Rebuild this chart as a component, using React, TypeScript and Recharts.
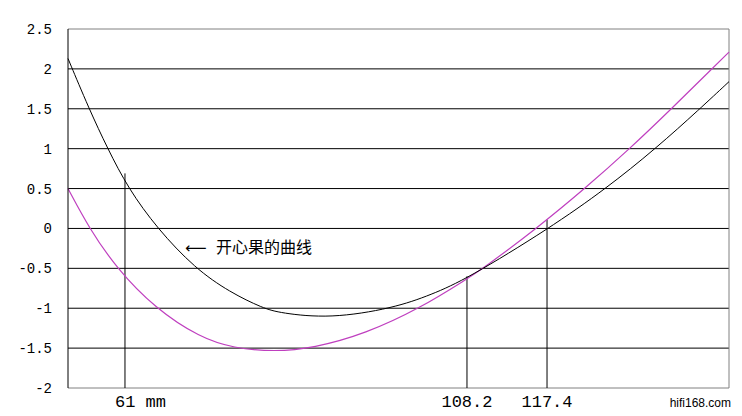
import { LineChart, Line, XAxis, YAxis, CartesianGrid, ReferenceLine } from 'recharts';

// x is the position along the horizontal axis, 0..100 (the axis carries no scale of its own)
// points read where each curve crosses the grid lines, plus its ends and lowest point
const PISTACHIO_X = [0, 3.18, 6.0, 9.13, 13.5, 19.2, 24.5, 29.5, 32.1, 39.6, 49.2, 55.0, 60.4, 72.8, 81.4, 88.9, 95.6, 100];
const PISTACHIO_Y = [2.13, 1.5, 1.0, 0.5, 0, -0.5, -0.8, -1.0, -1.06, -1.13, -1.0, -0.83, -0.63, 0, 0.5, 1.0, 1.5, 1.84];
const OTHER_X = [0, 3.22, 7.36, 13.16, 20.0, 25.0, 31.3, 37.1, 45.0, 53.25, 60.4, 62.8, 70.9, 78.2, 85.0, 91.3, 97.4, 100];
const OTHER_Y = [0.5, 0, -0.5, -1.0, -1.37, -1.5, -1.545, -1.5, -1.32, -1.0, -0.63, -0.5, 0, 0.5, 1.0, 1.5, 2.0, 2.21];

const MARKER_X = [8.62, 60.36, 72.47];
const MARKER_TOP = [0.69, -0.6, 0.11];
const MARKER_LABELS = ['61 mm', '108.2', '117.4'];

const Y_TICKS = [-2, -1.5, -1, -0.5, 0, 0.5, 1, 1.5, 2, 2.5];
const GRID_Y = [-1.5, -1, -0.5, 0, 0.5, 1, 1.5, 2];

const pistachio = PISTACHIO_X.map((x, i) => ({ x, y: PISTACHIO_Y[i] }));
const other = OTHER_X.map((x, i) => ({ x, y: OTHER_Y[i] }));

const XTick = (props: any) => {
  const { x, y, payload, index } = props;
  const first = index === 0;
  return (
    <text
      x={first ? x - 10 : x}
      y={y + 19}
      textAnchor={first ? 'start' : 'middle'}
      fontFamily="'Liberation Mono', 'DejaVu Sans Mono', monospace"
      fontSize={17}
      fill="#000"
    >
      {MARKER_LABELS[MARKER_X.indexOf(payload.value)] ?? ''}
    </text>
  );
};

const YTick = (props: any) => {
  const { x, y, payload } = props;
  return (
    <text
      x={x}
      y={y + 5}
      textAnchor="end"
      fontFamily="'Liberation Mono', 'DejaVu Sans Mono', monospace"
      fontSize={14}
      fill="#000"
    >
      {String(payload.value)}
    </text>
  );
};

export default function App() {
  return (
    <div style={{ position: 'absolute', left: 0, top: 0, width: 742, height: 416, background: '#fff' }}>
      <LineChart width={742} height={416} margin={{ top: 29, right: 13, bottom: 0, left: 0 }}>
        <CartesianGrid vertical={false} horizontalValues={GRID_Y} stroke="#000" strokeOpacity={1} />
        <XAxis
          type="number"
          dataKey="x"
          domain={[0, 100]}
          ticks={MARKER_X}
          axisLine={false}
          tickLine={false}
          tickSize={0}
          tickMargin={0}
          height={28}
          interval={0}
          allowDuplicatedCategory={false}
          tick={XTick}
        />
        <YAxis
          type="number"
          domain={[-2, 2.5]}
          ticks={Y_TICKS}
          width={68}
          axisLine={{ stroke: '#000' }}
          tickLine={false}
          tickSize={0}
          tickMargin={16}
          interval={0}
          tick={YTick}
        />
        <ReferenceLine y={2.5} stroke="#808080" />
        <ReferenceLine y={-2} stroke="#808080" />
        <ReferenceLine x={100} stroke="#808080" />
        {MARKER_X.map((mx, i) => (
          <ReferenceLine
            key={mx}
            segment={[
              { x: mx, y: -2 },
              { x: mx, y: MARKER_TOP[i] },
            ]}
            stroke="#000"
          />
        ))}
        <Line
          data={other}
          type="basis"
          dataKey="y"
          stroke="#bf3fbf"
          strokeWidth={1.2}
          dot={false}
          activeDot={false}
          isAnimationActive={false}
        />
        <Line
          data={pistachio}
          type="basis"
          dataKey="y"
          stroke="#000"
          strokeWidth={1}
          dot={false}
          activeDot={false}
          isAnimationActive={false}
        />
      </LineChart>
      <div
        style={{
          position: 'absolute',
          left: 185,
          top: 236,
          whiteSpace: 'nowrap',
          lineHeight: '20px',
          fontSize: 16,
          fontFamily: "'Noto Sans CJK SC', sans-serif",
          color: '#000',
        }}
      >
        <span style={{ display: 'inline-block', width: 31, fontFamily: "'DejaVu Sans', sans-serif", fontSize: 15 }}>⟵</span>
        开心果的曲线
      </div>
      <div
        style={{
          position: 'absolute',
          right: 11,
          top: 396,
          fontSize: 12,
          fontFamily: "'Liberation Sans', Arial, sans-serif",
          color: '#000',
        }}
      >
        hifi168.com
      </div>
    </div>
  );
}
